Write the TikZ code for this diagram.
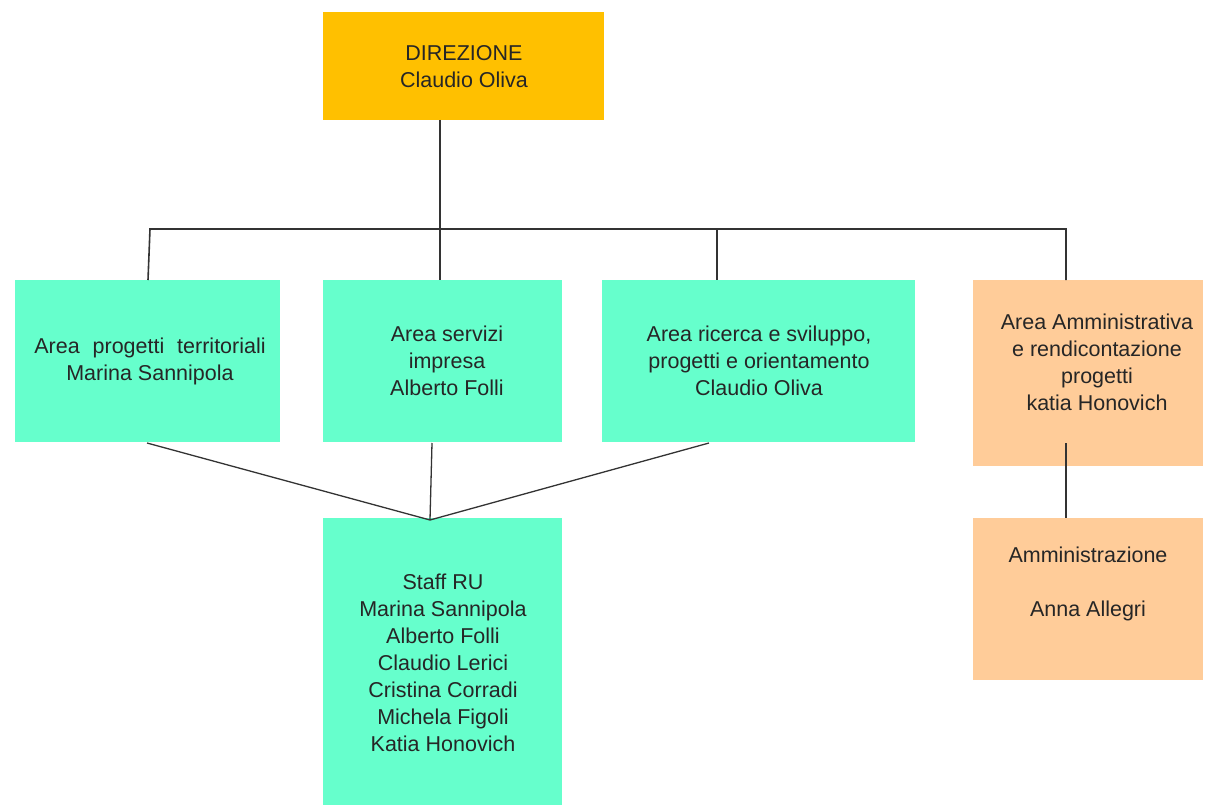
\documentclass[tikz,border=0pt]{standalone}
\usepackage{fontspec}
\setmainfont{Liberation Sans}
\definecolor{gold}{HTML}{FFC000}
\definecolor{aqua}{HTML}{66FFCC}
\definecolor{peach}{HTML}{FFCC99}
\begin{document}
\begin{tikzpicture}[x=1pt,y=-1pt,
  box/.style={draw=none,inner sep=0pt,outer sep=0pt,anchor=north west},
  lbl/.style={align=center,inner sep=0pt,font=\fontsize{21.5}{27}\selectfont,text=black!85},
  conn/.style={line width=1.6pt,draw=black!80}]
\useasboundingbox (0,0) rectangle (1205,805);
% boxes
\node[box,fill=gold,minimum width=281pt,minimum height=108pt] (dir) at (323,12) {};
\node[box,fill=aqua,minimum width=265pt,minimum height=162pt] (apt) at (15,280) {};
\node[box,fill=aqua,minimum width=239pt,minimum height=162pt] (asi) at (323,280) {};
\node[box,fill=aqua,minimum width=313pt,minimum height=162pt] (ars) at (602,280) {};
\node[box,fill=peach,minimum width=230pt,minimum height=186pt] (aam) at (973,280) {};
\node[box,fill=aqua,minimum width=239pt,minimum height=287pt] (staff) at (323,518) {};
\node[box,fill=peach,minimum width=230pt,minimum height=162pt] (amm) at (973,518) {};
% texts
\node[lbl] (tdir) at (464,67) {DIREZIONE\\Claudio Oliva};
\node[lbl] (tapt) at (150,361) {Area\hspace{0.6em}progetti\hspace{0.6em}territoriali\\Marina Sannipola};
\node[lbl] (tasi) at (447,361) {Area servizi\\impresa\\Alberto Folli};
\node[lbl] (tars) at (759,361) {Area ricerca e sviluppo,\\progetti e orientamento\\Claudio Oliva};
\node[lbl] (taam) at (1097,362) {Area Amministrativa\\e rendicontazione\\progetti\\katia Honovich};
\node[lbl] (tstaff) at (443,663) {Staff RU\\Marina Sannipola\\Alberto Folli\\Claudio Lerici\\Cristina Corradi\\Michela Figoli\\Katia Honovich};
\node[lbl] (tamm) at (1088,584) {Amministrazione\\[27pt]Anna Allegri};
% connectors
\coordinate (b1) at (150,229);
\coordinate (b2) at (440,229);
\coordinate (b3) at (717,229);
\coordinate (b4) at (1066,229);
\coordinate (dirb) at (440,120);
\coordinate (apttop) at (148,280);
\coordinate (asitop) at (440,280);
\coordinate (arstop) at (717,280);
\coordinate (aamtop) at (1066,280);
\draw[conn] (dirb) -- (b2);
\draw[conn] (apttop) -- (b1) -- (b4) -- (aamtop);
\draw[conn] (b2) -- (asitop);
\draw[conn] (b3) -- (arstop);
\coordinate (join) at (430,520);
\coordinate (aptb) at (147,443);
\coordinate (asib) at (432,443);
\coordinate (arsb) at (709,443);
\draw[conn,line width=1.3pt] (aptb) -- (join) -- (arsb);
\draw[conn,line width=1.3pt] (asib) -- (join);
\coordinate (aamb) at (1066,443);
\draw[conn] (aamb) -- (amm.north -| aamb);
\end{tikzpicture}
\end{document}
